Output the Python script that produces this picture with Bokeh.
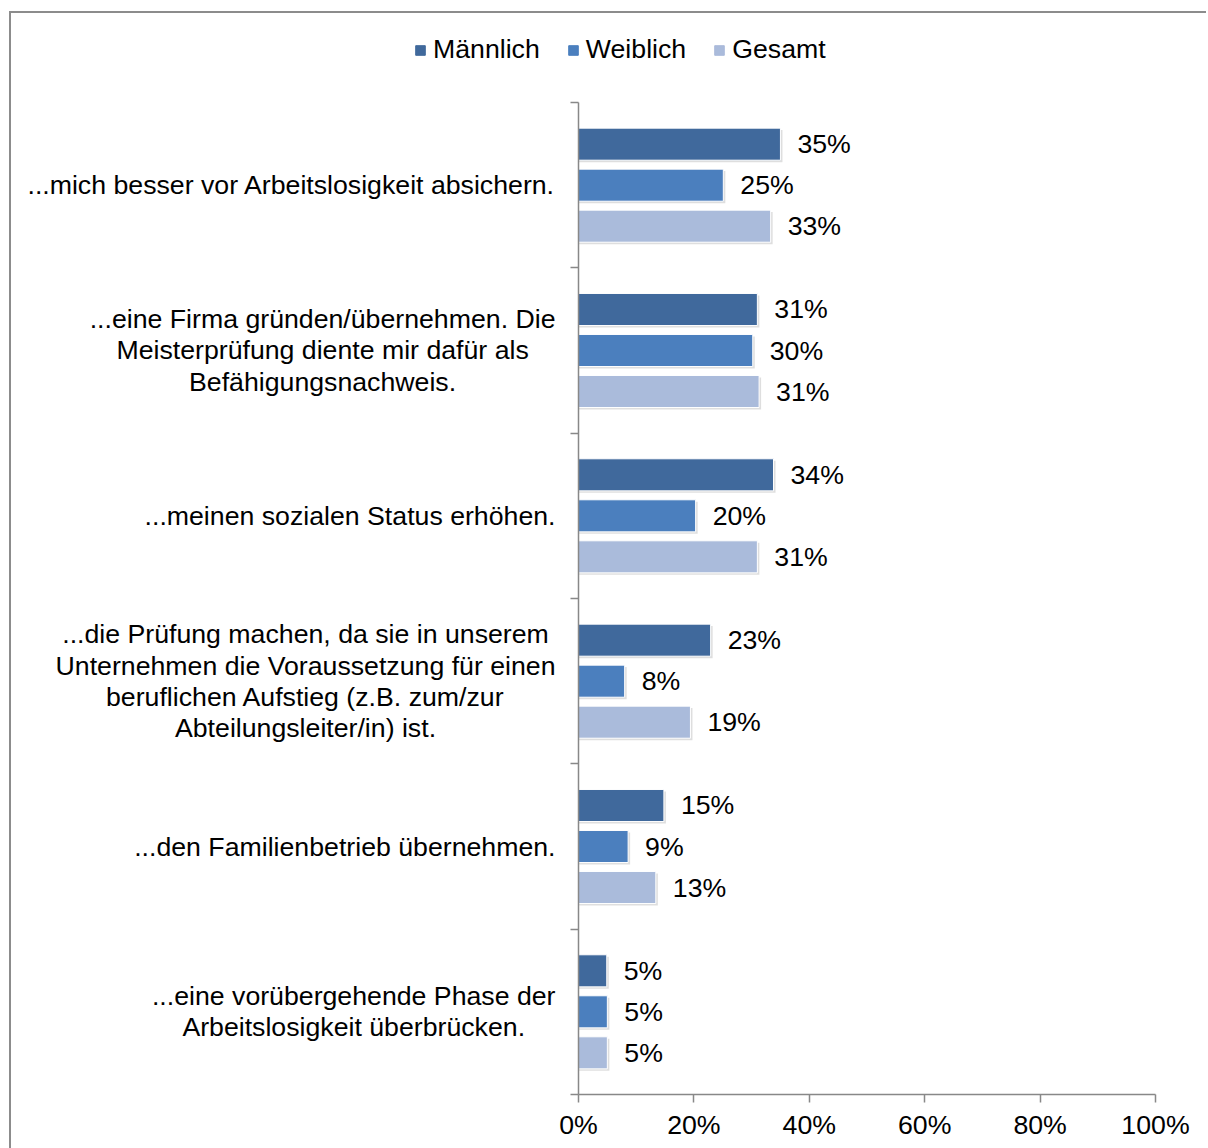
from bokeh.plotting import figure
from bokeh.layouts import column, row
from bokeh.models import (Range1d, FixedTicker, PrintfTickFormatter, LabelSet, Label,
                          Legend, LegendItem, ColumnDataSource)
from bokeh.embed import file_html
from bokeh.resources import INLINE
from bokeh.core.properties import value

categories = [
    "...mich besser vor Arbeitslosigkeit absichern.",
    "...eine Firma gründen/übernehmen. Die\nMeisterprüfung diente mir dafür als\nBefähigungsnachweis.",
    "...meinen sozialen Status erhöhen.",
    "...die Prüfung machen, da sie in unserem\nUnternehmen die Voraussetzung für einen\nberuflichen Aufstieg (z.B. zum/zur\nAbteilungsleiter/in) ist.",
    "...den Familienbetrieb übernehmen.",
    "...eine vorübergehende Phase der\nArbeitslosigkeit überbrücken.",
]
series_names = ["Männlich", "Weiblich", "Gesamt"]
maennlich = [35.0, 31.0, 33.8, 22.9, 14.8, 4.9]
weiblich = [25.1, 30.2, 20.3, 8.0, 8.6, 5.0]
gesamt = [33.3, 31.3, 31.0, 19.4, 13.4, 5.0]
x_ticks = [0, 20, 40, 60, 80, 100]

colors = ["#40699c", "#4b7fbe", "#aabbdb"]
FONT = "Liberation Sans"
FS = "26.7px"
GRAY = "#888888"

n = len(categories)
centers = [n - i - 0.5 for i in range(n)]
boundaries = list(range(n + 1))
offsets = [0.248, 0.0, -0.248]
bar_h = 0.194

yr = Range1d(0, n)
TOP, BOTTOM = 9, 54
ROW_H = 1055
LAB_W = 547
TOTAL_W = 1195


def clean(fig):
    fig.outline_line_color = None
    fig.background_fill_color = "white"
    fig.border_fill_color = "white"
    fig.xgrid.visible = False
    fig.ygrid.visible = False


sources = []
for vals, off in zip([maennlich, weiblich, gesamt], offsets):
    ys = [c + off for c in centers]
    sources.append(ColumnDataSource(dict(y=ys, right=vals,
                                         sy=[y - 0.012 for y in ys],
                                         sright=[v + 0.35 for v in vals],
                                         label=[f"{round(v)}%" for v in vals])))

# ---- legend strip (its glyphs lie outside this strip's visible range; only the legend shows) ----
leg_fig = figure(width=TOTAL_W, height=80, output_backend="svg", toolbar_location=None,
                 x_range=Range1d(-2, -1), y_range=Range1d(-2, -1),
                 x_axis_location=None, y_axis_location=None,
                 min_border_left=0, min_border_right=0, min_border_top=0, min_border_bottom=0)
clean(leg_fig)
leg_renderers = []
for src, col in zip(sources, colors):
    leg_renderers.append(leg_fig.hbar(y="y", right="right", left=0, height=bar_h, source=src,
                                      fill_color=col, line_color=col, line_width=1))
legend = Legend(items=[LegendItem(label=nm, renderers=[r]) for nm, r in zip(series_names, leg_renderers)],
                orientation="horizontal", location=(403, 28),
                glyph_width=12, glyph_height=12, label_standoff=7, spacing=27,
                padding=0, margin=0, border_line_color=None, background_fill_alpha=0,
                label_text_font=FONT, label_text_font_size=FS, label_text_color="black")
leg_fig.add_layout(legend)

# ---- category label strip ----
lab_fig = figure(width=LAB_W, height=ROW_H, output_backend="svg", toolbar_location=None,
                 x_range=Range1d(0, 1), y_range=yr,
                 x_axis_location=None, y_axis_location=None,
                 min_border_left=0, min_border_right=0, min_border_top=TOP, min_border_bottom=BOTTOM)
clean(lab_fig)
for cat, c in zip(categories, centers):
    lab_fig.add_layout(Label(x=1, y=c, x_offset=-3, text=cat, anchor="center_right",
                             text_align="center", text_baseline="middle",
                             text_font=FONT, text_font_size=FS, text_color="black",
                             text_line_height=1.04))

# ---- main chart ----
p = figure(width=TOTAL_W - LAB_W, height=ROW_H, output_backend="svg", toolbar_location=None,
           x_range=Range1d(0, 100), y_range=yr,
           min_border_left=20, min_border_right=51, min_border_top=TOP, min_border_bottom=BOTTOM)
clean(p)

for src, col in zip(sources, colors):
    p.hbar(y="sy", left=0, right="sright", height=bar_h, source=src,
           fill_color="black", fill_alpha=0.13, line_color=None)
    p.hbar(y="y", left=0, right="right", height=bar_h, source=src,
           fill_color=col, line_color="white", line_width=1)
    p.add_layout(LabelSet(x="right", y="y", text="label", source=src, x_offset=17,
                          text_baseline="middle", text_align="left",
                          text_font=value(FONT), text_font_size=FS, text_color="black"))

ax = p.xaxis[0]
ax.ticker = FixedTicker(ticks=x_ticks)
ax.formatter = PrintfTickFormatter(format="%d%%")
ax.major_tick_in = 0
ax.major_tick_out = 8
ax.minor_tick_line_color = None
ax.axis_line_color = GRAY
ax.axis_line_width = 1.5
ax.major_tick_line_color = GRAY
ax.major_tick_line_width = 1.5
ax.major_label_standoff = 7
ax.major_label_text_font = FONT
ax.major_label_text_font_size = FS
ax.major_label_text_color = "black"

ay = p.yaxis[0]
ay.ticker = FixedTicker(ticks=boundaries)
ay.major_tick_in = 0
ay.major_tick_out = 8
ay.minor_tick_line_color = None
ay.major_tick_line_color = GRAY
ay.major_tick_line_width = 1.5
ay.axis_line_color = GRAY
ay.axis_line_width = 1.5
ay.major_label_standoff = 0
ay.major_label_text_font_size = "0px"
ay.major_label_text_color = None

layout = column(leg_fig, row(lab_fig, p, spacing=0), spacing=0,
                styles={"border-top": "2px solid #8c8c8c", "border-left": "2px solid #8c8c8c",
                        "margin-left": "9px", "margin-top": "11px"})

open("out.html", "w").write(file_html(layout, INLINE))
